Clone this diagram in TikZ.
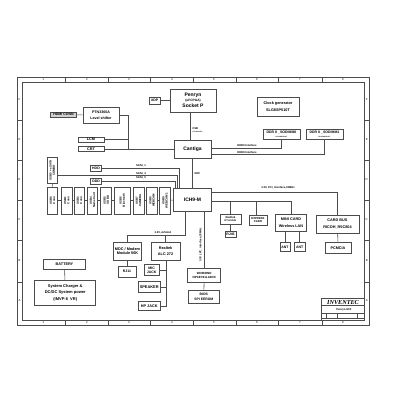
\documentclass[tikz,border=0pt]{standalone}
\usepackage{fontspec}
\setmainfont{Liberation Sans}
\newfontfamily\titleface{Liberation Serif}
\usetikzlibrary{positioning}
\tikzset{
  blockbox/.style={draw=black!70, line width=0.55pt, fill=white, align=center, inner sep=0pt, font=\bfseries\fontsize{3.8}{4.6}\selectfont},
  tinybox/.style={blockbox, font=\bfseries\fontsize{3.5}{3.9}\selectfont},
  usbbox/.style={blockbox, font=\bfseries\fontsize{2.9}{3.3}\selectfont},
  wirelabel/.style={font=\bfseries\fontsize{2.7}{3.2}\selectfont, inner sep=0pt},
  wire/.style={draw=black!70, line width=0.55pt},
  frameline/.style={draw=black!70, line width=0.55pt},
  ticklabel/.style={font=\fontsize{2.8}{3}\selectfont, inner sep=0pt}
}
\begin{document}
\begin{tikzpicture}[x=1pt,y=-1pt]
    \useasboundingbox (0,0) rectangle (400,400);
    % outer frame
    \draw[frameline] (17,77) rectangle (369,325);
    \draw[frameline] (22,82) rectangle (364.5,320.7);
    \foreach \x in {65,108,150,193,236,278,322}{\draw[frameline] (\x,77) -- (\x,82); \draw[frameline] (\x,320.7) -- (\x,325);}
    \foreach \x [count=\i] in {43.5,87,129,172,214,257,300,343}{
      \node[ticklabel] (tn\i) at (\x,79.5) {\i};
      \node[ticklabel] (bn\i) at (\x,323) {\i};
    }
    \foreach \y in {120,160,200,240,282}{\draw[frameline] (17,\y) -- (22,\y); \draw[frameline] (364.5,\y) -- (369,\y);}
    \foreach \y/\lt in {100/F,140/E,180/D,220/C,261/B,301/A}{
      \node[ticklabel] (l\lt) at (19.5,\y) {\lt};
      \node[ticklabel] (r\lt) at (366.7,\y) {\lt};
    }
    % cpu and north bridge
    \node[blockbox, minimum width=46, minimum height=23, font=\bfseries\fontsize{5}{5.8}\selectfont] (cpu) at (193,100.5) {Penryn\\[-0.5pt]{\fontsize{3.2}{3.8}\selectfont (uFCPGA)}\\Socket P};
    \node[tinybox, minimum width=10.5, minimum height=7] (xdp) at (154.7,100.5) {XDP};
    \node[blockbox, minimum width=37, minimum height=18, font=\bfseries\fontsize{5}{6}\selectfont] (gmch) at (192.5,149) {Cantiga};
    \node[blockbox, minimum width=42, minimum height=19] (clk) at (278,106.5) {Clock generator\\[2.5pt]SLG8SP510T};
    \node[tinybox, minimum width=37, minimum height=10] (ddra) at (281.5,134) {DDR II \_SODIMM0\\[0.3pt]{\fontsize{1.6}{2}\selectfont SO-DIMM SLOT}};
    \node[tinybox, minimum width=37, minimum height=10] (ddrb) at (324.5,134) {DDR II \_SODIMM1\\[0.3pt]{\fontsize{1.6}{2}\selectfont SO-DIMM SLOT}};
    % video
    \node[blockbox, minimum width=36, minimum height=16, font=\bfseries\fontsize{3.6}{4.4}\selectfont] (lvl) at (101,115) {PTN3360A\\[1.5pt]Level shifter};
    \node[tinybox, fill=black!18, minimum width=25.5, minimum height=5.5] (hdmi) at (63.5,114.7) {HDMI CONN};
    \node[blockbox, minimum width=26, minimum height=5.5] (lcm) at (91,139.6) {LCM};
    \node[blockbox, minimum width=26, minimum height=5.5] (crt) at (91,149) {CRT};
    \coordinate (vidtop) at (128.3,115);
    \coordinate (vidbot) at (128.3,149);
    \draw[wire] (hdmi) -- (lvl);
    \draw[wire] (lvl) -- (vidtop) -- (vidbot);
    \draw[wire] (lcm) -- (lcm -| vidtop);
    \draw[wire] (crt) -- (gmch);
    \draw[wire] (xdp) -- (cpu);
    \draw[wire] (190.7,112) -- (190.7,140);
    \node[wirelabel, align=left, anchor=west] (fsb) at (192.5,130) {FSB\\{\fontsize{1.6}{2}\selectfont 677/800/1067}};
    \draw[wire] (211,148) -| (ddra);
    \node[wirelabel] (ddrla) at (247,146) {DDRII Interface};
    \draw[wire] (211,154.3) -| (ddrb);
    \node[wirelabel] (ddrlb) at (247,152.3) {DDRII Interface};
    % south bridge
    \node[blockbox, minimum width=38.4, minimum height=23, font=\bfseries\fontsize{5}{6}\selectfont] (ich) at (192.5,199.8) {ICH9-M};
    \draw[wire] (gmch) -- (ich);
    \node[wirelabel, anchor=west] (dmi) at (194.5,174) {DMI};
    \node[tinybox, minimum width=10.5, minimum height=6] (hdd) at (96,168) {HDD};
    \node[tinybox, minimum width=10.5, minimum height=6] (odd) at (96,181.5) {ODD};
    \draw[wire] (hdd) -| (179.3,188.3);
    \draw[wire] (odd) -| (175,188.3);
    \node[wirelabel] (sata1) at (141,166) {SATA\_1};
    \node[wirelabel] (sata4) at (141,173.3) {SATA\_4};
    \node[wirelabel] (sata0) at (141,178) {SATA\_0};
    \node[usbbox, minimum width=26.5, minimum height=10, rotate=90] (esata) at (52.3,170.3) {USB0 + eSATA\\COMBO};
    \draw[wire] (57.3,175.3) -| (177.2,188.3);
    % usb row
    \foreach \nm/\cx/\bw/\txt in {ua/52.5/10.4/{USB0\\Conn},ub/66.7/10.6/{USB1\\Conn},uc/79.5/10.4/{USB2\\Conn},ud/92.5/10.4/{USB4\\Name Card},ue/106.2/11/{USB5\\SD BD},uf/122.2/15.6/{USB6\\Bluetooth},ug/138.5/10.6/{USB7\\CAMERA},uh/152/10.6/{USB8\\WEBCAM},ui/165/11.4/{USB9\\WEBCAM 1}}{
      \node[usbbox, minimum width=27, minimum height=\bw, rotate=90] (\nm) at (\cx,200.3) {\txt};
    }
    \foreach \pa/\pb in {ua/ub,ub/uc,uc/ud,ud/ue,ue/uf,uf/ug,ug/uh,uh/ui,ui/ich}{\draw[wire] (\pa) -- (\pb);}
    \draw[wire] (esata) -- (ua);
    % pci bus
    \node[blockbox, minimum width=43, minimum height=18] (cbus) at (337.5,224) {CARD BUS\\[2pt]RICOH\_R5C804};
    \node[blockbox, minimum width=25.6, minimum height=11, font=\bfseries\fontsize{3.8}{4}\selectfont] (pcmcia) at (338,248) {PCMCIA};
    \draw[wire] (211.7,192.3) -| (cbus);
    \draw[wire] (cbus) -- (pcmcia);
    \node[wirelabel] (pcil) at (278,187.3) {3.3V, PCI\_Interface,33MHz};
    \node[blockbox, minimum width=31.4, minimum height=17.3] (mini) at (291,222.7) {MINI CARD\\[1.5pt]Wireless LAN};
    \draw[wire] (211.7,201.7) -| (mini);
    \node[tinybox, minimum width=10.4, minimum height=9.4] (anta) at (285,247) {ANT};
    \node[tinybox, minimum width=10.6, minimum height=9.4] (antb) at (299.7,247) {ANT};
    \draw[wire] (anta |- mini.south) -- (anta);
    \draw[wire] (antb |- mini.south) -- (antb);
    \node[tinybox, minimum width=17.7, minimum height=10.3, font=\bfseries\fontsize{2.8}{3.3}\selectfont] (exp) at (258,220.2) {EXPRESS\\CARD};
    \draw[wire] (256.7,201.7) -- (256.7,215);
    \node[tinybox, minimum width=21, minimum height=10, font=\bfseries\fontsize{2.8}{3.3}\selectfont] (lan) at (230.5,219.3) {Realtek\\{\fontsize{2.4}{2.8}\selectfont RTL8103E}};
    \node[tinybox, minimum width=11, minimum height=6] (rjlan) at (230.5,234.7) {RJ45};
    \draw[wire] (230.5,201.7) -- (lan);
    \draw[wire] (lan) -- (rjlan);
    % audio
    \node[blockbox, minimum width=28.4, minimum height=17.7] (mdc) at (127.5,251) {MDC / Modem\\Module 56K};
    \node[blockbox, minimum width=28.7, minimum height=17.7] (alc) at (165.6,251) {Realtek\\[1.5pt]ALC 272};
    \coordinate (azbus) at (185,235.2);
    \draw[wire] (185,211.3) -- (azbus) -| (mdc);
    \draw[wire] (alc |- azbus) -- (alc);
    \node[wirelabel] (azl) at (163,233) {3.3V, AZALIA};
    \node[tinybox, minimum width=18, minimum height=11.3] (rjmdc) at (127,271.7) {RJ11};
    \draw[wire] (rjmdc |- mdc.south) -- (rjmdc);
    \node[tinybox, minimum width=15.3, minimum height=10.6] (mic) at (151.7,270) {MIC\\JACK};
    \node[tinybox, minimum width=21.7, minimum height=11, font=\bfseries\fontsize{3.9}{4}\selectfont] (spk) at (149.2,287.2) {SPEAKER};
    \node[tinybox, minimum width=21.7, minimum height=9, font=\bfseries\fontsize{3.8}{4}\selectfont] (hp) at (149.2,306.2) {HP JACK};
    \draw[wire] (alc.south -| 166,0) |- (hp);
    \draw[wire] (mic) -- (166,270);
    \draw[wire] (spk) -- (166,287.2);
    % bios
    \node[tinybox, minimum width=33, minimum height=14.4, font=\bfseries\fontsize{3}{3.6}\selectfont] (kbc) at (204.2,275.5) {WINBOND\\[1pt]NPCE781LA0DX};
    \node[blockbox, minimum width=31, minimum height=13.3, font=\bfseries\fontsize{3.4}{4.2}\selectfont] (bios) at (203.8,296.7) {BIOS\\[1pt]SPI EEROM};
    \draw[wire] (204.2,211.3) -- (kbc);
    \draw[wire] (kbc) -- (bios);
    \node[wirelabel, rotate=90] (lpcl) at (200.7,245) {3.3V LPC\_interface,33MHz};
    % power
    \node[blockbox, minimum width=41.6, minimum height=10.3] (bat) at (64.5,264) {BATTERY};
    \node[blockbox, minimum width=61, minimum height=24.3, font=\bfseries\fontsize{4}{5}\selectfont] (chg) at (65.2,292.8) {System Charger \&\\[1.5pt]DC/DC System power\\[1.5pt](IMVP-6\ \ VR)};
    \draw[wire] (bat) -- (chg);
    % title block
    \draw[frameline] (321.7,298.3) rectangle (364.5,320.7);
    \draw[frameline] (321.7,305.7) -- (364.5,305.7);
    \draw[frameline] (321.7,313.3) -- (364.5,313.3);
    \draw[frameline] (321.7,318) -- (364.5,318);
    \foreach \x in {326,337,357}{\draw[frameline] (\x,313.3) -- (\x,318);}
    \node[font=\titleface\bfseries\itshape\fontsize{6.2}{7}\selectfont, inner sep=0pt] (title) at (343,302) {INVENTEC};
    \node[wirelabel] (model) at (344,309.5) {Penryn-SFF};
\end{tikzpicture}
\end{document}
